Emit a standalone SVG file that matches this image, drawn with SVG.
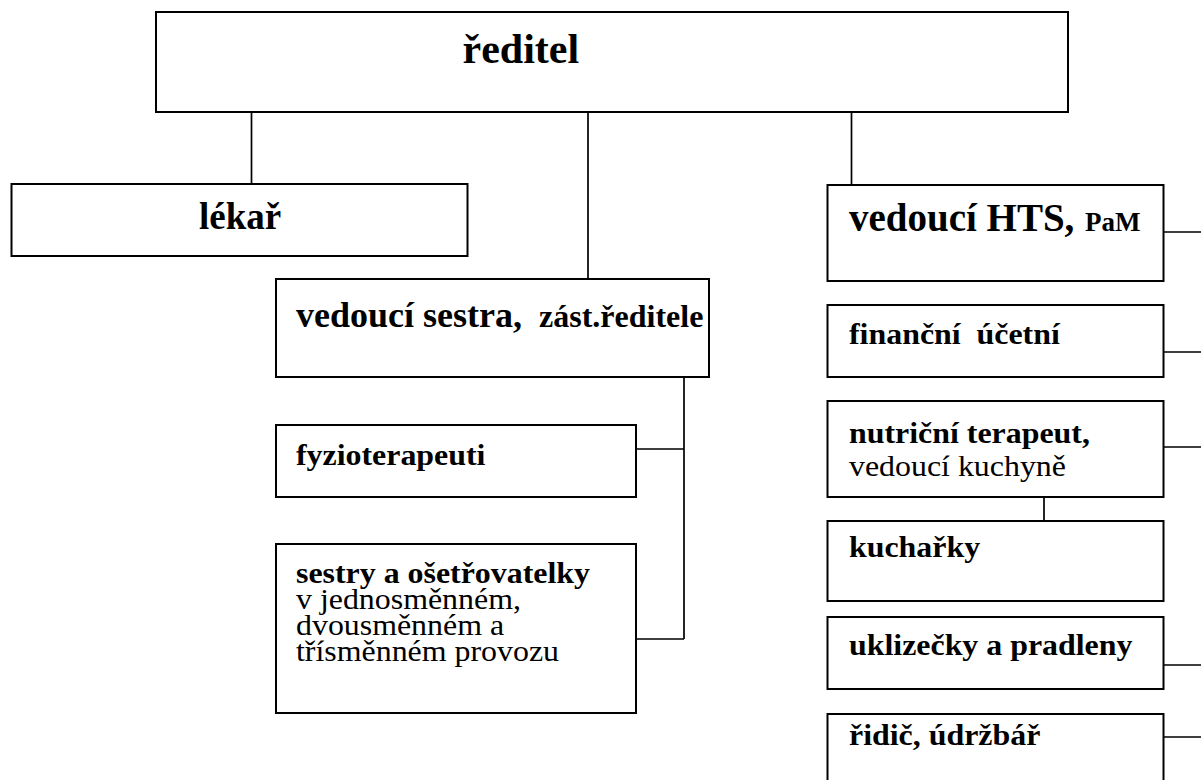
<svg xmlns="http://www.w3.org/2000/svg" width="1201" height="780" viewBox="0 0 1201 780">
<style>
.box{fill:#fff;stroke:#000;stroke-width:2}
.ln{fill:none;stroke:#000;stroke-width:1.7}
text{font-family:"Liberation Serif","Times New Roman",serif;fill:#000}
.b{font-weight:bold}
.s{font-size:29px}
.t37{font-size:37px}
</style>
<rect width="1201" height="780" fill="#fff"/>
<g id="connectors">
<path class="ln" d="M251.5 112V184M588 112V279M851.5 112V185"/>
<path class="ln" d="M684 377V639M636 449H684M636 639H684"/>
<path class="ln" d="M1164 232H1201M1164 352H1201M1164 447H1201M1044 497V521M1164 665H1201M1164 737H1201"/>
</g>
<g id="reditel">
<rect class="box" x="156" y="12" width="912" height="100"/>
<text class="b" x="462.5" y="63" font-size="42">ředitel</text>
</g>
<g id="lekar">
<rect class="box" x="11.5" y="184" width="456" height="72"/>
<text class="b t37" x="199" y="229">lékař</text>
</g>
<g id="vedouci-sestra">
<rect class="box" x="276" y="279" width="433" height="98"/>
<text class="b" x="296" y="327"><tspan font-size="36">vedoucí sestra,</tspan><tspan x="539" font-size="32">zást.ředitele</tspan></text>
</g>
<g id="fyzioterapeuti">
<rect class="box" x="276" y="425" width="360" height="72"/>
<text class="b s" transform="scale(1.1 1)" x="269.09" y="465">fyzioterapeuti</text>
</g>
<g id="sestry">
<rect class="box" x="276" y="544" width="360" height="169"/>
<text class="s" transform="scale(1.1 1)" x="269.09" y="583"><tspan class="b">sestry a ošetřovatelky</tspan><tspan x="269.09" y="609">v jednosměnném,</tspan><tspan x="269.09" y="635">dvousměnném a</tspan><tspan x="269.09" y="661">třísměnném provozu</tspan></text>
</g>
<g id="vedouci-hts">
<rect class="box" x="827.5" y="185" width="336" height="96"/>
<text class="b" x="849" y="231"><tspan font-size="39">vedoucí HTS,</tspan><tspan x="1085" font-size="27">PaM</tspan></text>
</g>
<g id="financni">
<rect class="box" x="827.5" y="305" width="336" height="72"/>
<text class="b s" transform="scale(1.1 1)" x="771.82" y="344">finanční&#160; účetní</text>
</g>
<g id="nutricni">
<rect class="box" x="827.5" y="401" width="336" height="96"/>
<text class="s" transform="scale(1.1 1)" x="771.82" y="443"><tspan class="b">nutriční terapeut,</tspan><tspan x="771.82" y="476">vedoucí kuchyně</tspan></text>
</g>
<g id="kucharky">
<rect class="box" x="827.5" y="521" width="336" height="80"/>
<text class="b s" transform="scale(1.1 1)" x="771.82" y="557">kuchařky</text>
</g>
<g id="uklizecky">
<rect class="box" x="827.5" y="617" width="336" height="72"/>
<text class="b s" transform="scale(1.1 1)" x="771.82" y="655">uklizečky a pradleny</text>
</g>
<g id="ridic">
<rect class="box" x="827.5" y="714" width="336" height="90"/>
<text class="b s" transform="scale(1.1 1)" x="771.82" y="745">řidič, údržbář</text>
</g>
</svg>
